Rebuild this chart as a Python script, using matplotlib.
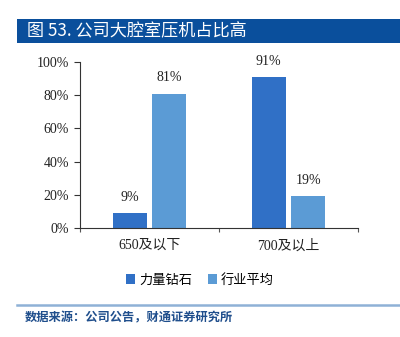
import matplotlib
matplotlib.use("Agg")
import matplotlib.pyplot as plt
import numpy as np
from matplotlib.patches import Rectangle
from matplotlib.lines import Line2D

categories = ["650及以下", "700及以上"]
series_names = ["力量钻石", "行业平均"]
liliang = [9, 91]
industry = [81, 19]
yticks = [0, 20, 40, 60, 80, 100]

serif = ['Liberation Serif', 'Noto Sans CJK SC']
cjk = ['Noto Sans CJK SC', 'DejaVu Sans']

fig = plt.figure(figsize=(4.0, 3.37), dpi=100)

# title bar
fig.patches.append(Rectangle((17/400, 1-43/337), 383/400, 24/337, transform=fig.transFigure,
                             facecolor='#0a4f9c', edgecolor='none'))
fig.text(27/400, 1-31/337, "图 53. 公司大腔室压机占比高", color='white', fontsize=12.3,
         fontweight='medium', family=cjk, va='center', ha='left')

ax = fig.add_axes([80/400, 1-228/337, 278/400, 166/337])
x = np.arange(len(categories))
w = 0.245
off = 0.143
c1, c2 = '#3070c6', '#5b9bd5'
b1 = ax.bar(x - off, liliang, w, color=c1, label=series_names[0])
b2 = ax.bar(x + off, industry, w, color=c2, label=series_names[1])
for bars, vals in ((b1, liliang), (b2, industry)):
    for r, v in zip(bars, vals):
        ax.text(r.get_x() + r.get_width()/2, v + 5.5, f"{v}%", ha='center', va='bottom',
                fontsize=10, family=serif, color='#222222')

ax.set_xlim(-0.5, 1.5)
ax.set_ylim(0, 100)
ax.set_yticks(yticks)
ax.set_yticklabels([f"{t}%" for t in yticks], family=serif, fontsize=10, color='#222222')
ax.set_xticks([-0.5, 0.5, 1.5], minor=False)
ax.set_xticklabels([])
ax.set_xticks(x, minor=True)
ax.set_xticklabels(categories, minor=True, family=serif, fontsize=10, color='#222222')
ax.tick_params(axis='x', which='major', length=3, direction='out', color='#555555')
ax.tick_params(axis='x', which='minor', length=0, pad=8)
ax.tick_params(axis='y', length=4, direction='out', pad=4, color='#333333')
for s in ['top', 'right']:
    ax.spines[s].set_visible(False)
ax.spines['left'].set_color('#333333')
ax.spines['bottom'].set_color('#333333')

leg = fig.legend(handles=[b1, b2], labels=series_names, loc='center', bbox_to_anchor=(0.5, 1-280/337),
                 ncol=2, frameon=False, prop={'family': cjk, 'size': 9.5},
                 handlelength=0.7, handleheight=0.7, handletextpad=0.3, columnspacing=1.2)

# source line
fig.add_artist(Line2D([17/400, 1.0], [1-305/337, 1-305/337], transform=fig.transFigure,
                      color='#8fb1d6', linewidth=1.8))
fig.text(25/400, 1-318/337, "数据来源：公司公告，财通证券研究所", color='#1f4e8c', fontsize=8.8,
         fontweight='bold', family=cjk, va='center', ha='left')

fig.savefig("out.png", dpi=100)
